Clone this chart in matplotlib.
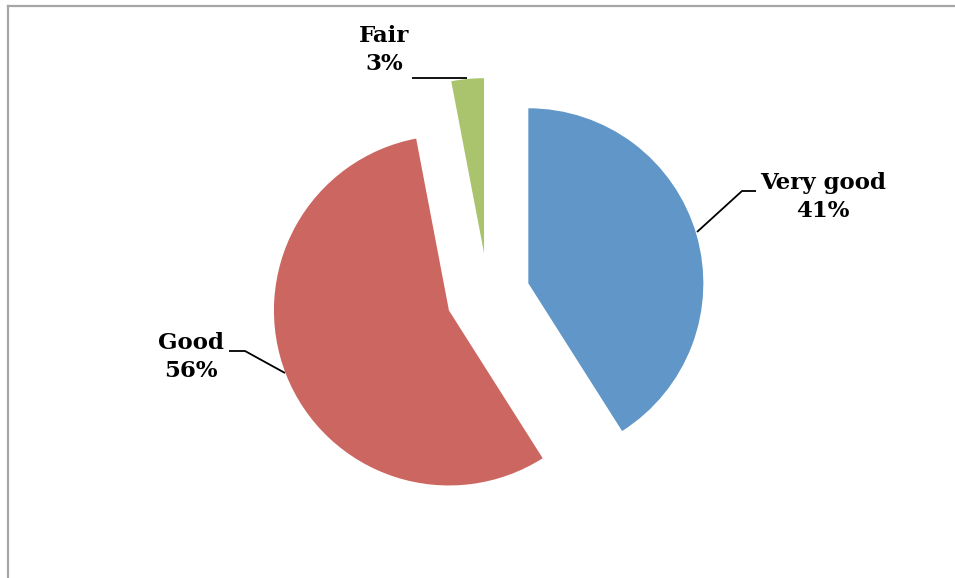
import matplotlib
matplotlib.use("Agg")
import matplotlib.pyplot as plt
from matplotlib.lines import Line2D

categories = ["Very good", "Good", "Fair"]
values = [41, 56, 3]
colors = ["#6096C8", "#CC6660", "#A9C46C"]

W, H = 955, 578
R = 175
fig = plt.figure(figsize=(W / 100, H / 100), dpi=100)
ax = fig.add_axes([0, 0, 1, 1])

# explode is in data units (pixels here)
ax.pie(values, colors=colors, startangle=90, counterclock=False,
       explode=[42] * 3, center=(488, H - 295), radius=R,
       wedgeprops=dict(linewidth=0))
ax.set_xlim(0, W)
ax.set_ylim(0, H)
ax.set_aspect("equal")
ax.axis("off")

font = dict(family="DejaVu Serif", weight="bold", fontsize=16.5,
            ha="center", va="center", linespacing=1.3)

def Y(y):
    return H - y

labels = [f"{c}\n{v}%" for c, v in zip(categories, values)]
ax.text(823, Y(197), labels[0], **font)
ax.text(191, Y(357), labels[1], **font)
ax.text(384, Y(50), labels[2], **font)

lk = dict(color="black", linewidth=1.3, solid_capstyle="butt")
ax.plot([697, 742, 756], [Y(232), Y(191), Y(191)], **lk)
ax.plot([229, 245, 285], [Y(351), Y(351), Y(373)], **lk)
ax.plot([412, 467], [Y(78), Y(78)], **lk)

# chart frame (only top and left visible)
fig.add_artist(Line2D([7.5 / W, 7.5 / W], [0, 1 - 6 / H], transform=fig.transFigure,
                      color="#A6A6A6", linewidth=1.6))
fig.add_artist(Line2D([7.5 / W, 1], [1 - 6 / H, 1 - 6 / H], transform=fig.transFigure,
                      color="#A6A6A6", linewidth=1.6))

fig.savefig("out.png", dpi=100)
